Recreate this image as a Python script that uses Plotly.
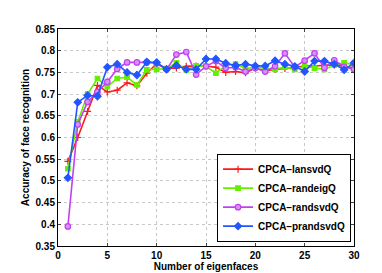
import plotly.graph_objects as go

eigenfaces = list(range(1, 31))

lansvdQ = [0.545, 0.600, 0.660, 0.720, 0.705, 0.709, 0.726, 0.719, 0.748, 0.770,
           0.759, 0.760, 0.764, 0.765, 0.764, 0.762, 0.750, 0.752, 0.749, 0.760,
           0.754, 0.757, 0.759, 0.762, 0.764, 0.765, 0.767, 0.767, 0.764, 0.760]

randeigQ = [0.528, 0.636, 0.700, 0.736, 0.717, 0.736, 0.739, 0.721, 0.756, 0.757,
            0.759, 0.772, 0.756, 0.765, 0.764, 0.748, 0.766, 0.769, 0.759, 0.762,
            0.759, 0.757, 0.762, 0.757, 0.764, 0.760, 0.757, 0.767, 0.772, 0.768]

randsvdQ = [0.395, 0.630, 0.682, 0.705, 0.728, 0.758, 0.773, 0.773, 0.773, 0.771,
            0.757, 0.791, 0.797, 0.745, 0.764, 0.776, 0.760, 0.762, 0.752, 0.760,
            0.752, 0.764, 0.794, 0.762, 0.777, 0.794, 0.761, 0.778, 0.763, 0.757]

prandsvdQ = [0.507, 0.681, 0.697, 0.695, 0.762, 0.769, 0.750, 0.744, 0.774, 0.773,
             0.757, 0.766, 0.757, 0.757, 0.781, 0.781, 0.771, 0.766, 0.769, 0.765,
             0.765, 0.777, 0.769, 0.764, 0.752, 0.776, 0.776, 0.769, 0.756, 0.772]

series_names = ["CPCA\u2013lansvdQ", "CPCA\u2013randeigQ", "CPCA\u2013randsvdQ", "CPCA\u2013prandsvdQ"]
series_values = [lansvdQ, randeigQ, randsvdQ, prandsvdQ]

x_ticks = [0, 5, 10, 15, 20, 25, 30]
y_ticks = [0.35, 0.4, 0.45, 0.5, 0.55, 0.6, 0.65, 0.7, 0.75, 0.8, 0.85]
y_ticklabels = ["0.35", "0.4", "0.45", "0.5", "0.55", "0.6", "0.65", "0.7", "0.75", "0.8", "0.85"]

styles = [
    dict(color="#ff1a1a", symbol="cross-thin", fill="#ff1a1a", size=5),
    dict(color="#66ee00", symbol="square", fill="#66ee00", size=4.5),
    dict(color="#c040f0", symbol="circle", fill="#d890f8", size=5.5),
    dict(color="#2255ff", symbol="diamond", fill="#2255ff", size=5.5),
]

fig = go.Figure()
for name, vals, st in zip(series_names, series_values, styles):
    fig.add_trace(go.Scatter(
        x=eigenfaces, y=vals, mode="lines+markers", name=name,
        line=dict(color=st["color"], width=1.6),
        marker=dict(symbol=st["symbol"], size=st["size"], color=st["fill"],
                    line=dict(color=st["color"], width=1.2)),
    ))

font = dict(family="Liberation Sans, Arial, sans-serif", size=10, color="black", weight="bold")

fig.update_layout(
    width=382, height=273,
    margin=dict(l=50, r=36, t=21, b=31),
    paper_bgcolor="white", plot_bgcolor="white",
    font=font,
    showlegend=True,
    legend=dict(x=0.99, y=0.02, xanchor="right", yanchor="bottom",
                bgcolor="white", bordercolor="black", borderwidth=1,
                font=dict(family="Liberation Sans, Arial, sans-serif", size=10, color="black", weight="bold"),
                tracegroupgap=0, itemwidth=30),
    xaxis=dict(range=[0, 30], tickvals=x_ticks, ticks="inside", ticklen=3,
               showline=True, linecolor="black", linewidth=1, mirror="ticks",
               showgrid=True, gridcolor="#c8c8c8", griddash="dot", gridwidth=1,
               zeroline=False,
               title=dict(text="Number of eigenfaces", standoff=1, font=font)),
    yaxis=dict(range=[0.35, 0.85], tickvals=y_ticks, ticktext=y_ticklabels,
               ticks="inside", ticklen=3,
               showline=True, linecolor="black", linewidth=1, mirror="ticks",
               showgrid=True, gridcolor="#c8c8c8", griddash="dot", gridwidth=1,
               zeroline=False,
               title=dict(text="Accuracy of face recognition", standoff=4, font=font)),
)

fig.write_html("out.html")
